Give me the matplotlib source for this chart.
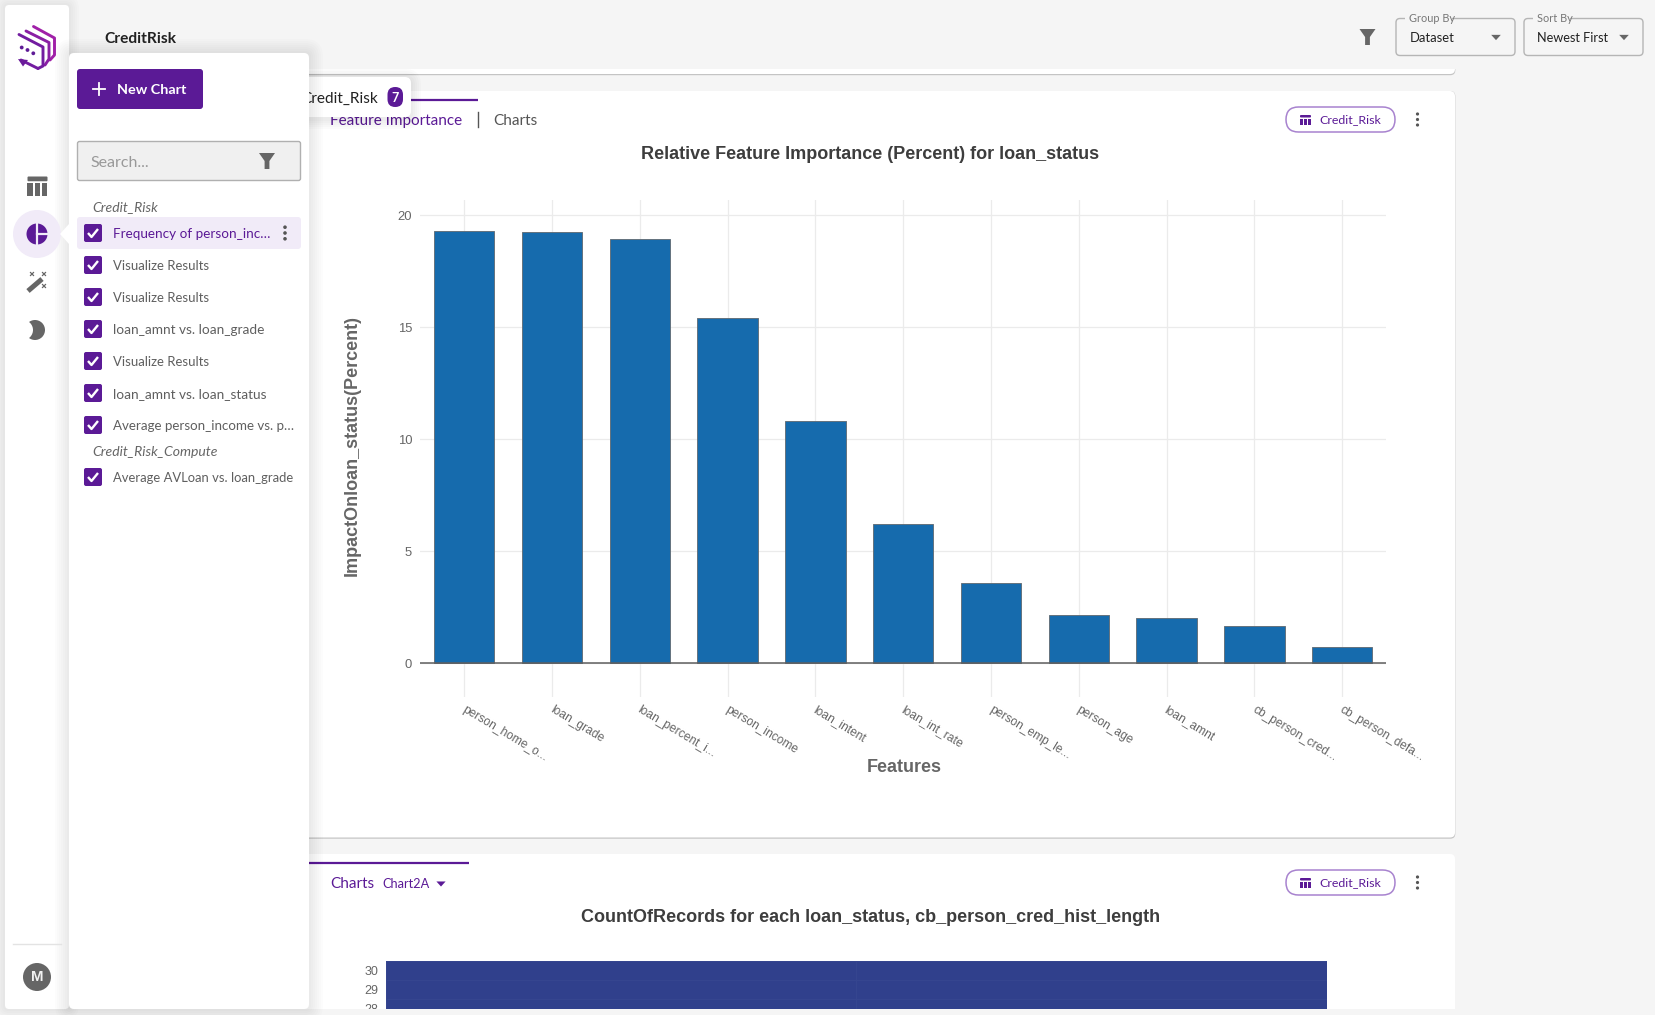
import matplotlib
matplotlib.use("Agg")
import matplotlib.pyplot as plt
from matplotlib.patches import FancyBboxPatch, Rectangle, Circle, Polygon
from matplotlib.colors import ListedColormap
from matplotlib.transforms import ScaledTranslation
import numpy as np

# ---------- data ----------
features = ["person_home_o...", "loan_grade", "loan_percent_i...", "person_income",
            "loan_intent", "loan_int_rate", "person_emp_le...", "person_age",
            "loan_amnt", "cb_person_cred...", "cb_person_defa..."]
importance = [19.29, 19.26, 18.92, 15.41, 10.8, 6.2, 3.58, 2.17, 2.01, 1.65, 0.74]
yticks = [0, 5, 10, 15, 20]

heat_rows = [28, 29, 30]
heat_cols = [0, 1]
heat_counts = [[1, 1], [1, 1], [1, 1]]

sidebar_items = ["Frequency of person_inc…", "Visualize Results", "Visualize Results",
                 "loan_amnt vs. loan_grade", "Visualize Results", "loan_amnt vs. loan_status",
                 "Average person_income vs. p…"]
sidebar_sizes = [13.55, 13.15, 13.15, 13.65, 13.15, 13.65, 13.45]
compute_items = ["Average AVLoan vs. loan_grade"]

# ---------- palette ----------
PURPLE = "#5b1a96"
LILAC = "#f1ebf8"
PAGE = "#f5f5f5"
GREY = "#666666"
UI = "Lato"
CHART = "Liberation Sans"
W, H = 1656, 1015


def fs(px):
    return px * 0.72


fig = plt.figure(figsize=(W / 100, H / 100), dpi=100, facecolor=PAGE)


def px_axes(left, top, right, bottom, **kw):
    return fig.add_axes([left / W, 1 - bottom / H, (right - left) / W, (bottom - top) / H], **kw)


def layer(z):
    a = fig.add_axes([0, 0, 1, 1], zorder=z)
    a.set_xlim(0, W)
    a.set_ylim(H, 0)
    a.axis("off")
    a.patch.set_alpha(0)
    return a


def box(a, x0, y0, x1, y1, r=4, fc="white", ec="none", lw=1, z=2, **kw):
    p = FancyBboxPatch((x0, y0), x1 - x0, y1 - y0, boxstyle=f"round,pad=0,rounding_size={r}",
                       fc=fc, ec=ec, lw=lw, zorder=z, **kw)
    a.add_patch(p)
    return p


def shadow(a, x0, y0, x1, y1, r=4, spread=14, alpha=0.012, dy=0, z=1):
    for s in range(spread, 0, -2):
        box(a, x0 - s, y0 - s + dy, x1 + s, y1 + s + dy, r=r + s, fc="black", alpha=alpha, z=z)


def card(a, x0, y0, x1, y1):
    box(a, x0, y0, x1 + 0.3, y1 + 1.2, r=5, fc="#c4c4c4", z=1.5)
    box(a, x0, y0, x1, y1, r=5, z=2)


def funnel(a, cx, cy, s=1.0, c=GREY, z=5):
    a.add_patch(Polygon([(cx - 8 * s, cy - 8 * s), (cx + 8 * s, cy - 8 * s), (cx + 2.4 * s, cy),
                         (cx + 2.4 * s, cy + 8 * s), (cx - 2.4 * s, cy + 8 * s), (cx - 2.4 * s, cy)],
                        closed=True, fc=c, ec="none", zorder=z))


def table_icon(a, cx, cy, w, h, c, z=5):
    box(a, cx - w / 2, cy - h / 2, cx + w / 2, cy - h / 2 + h * 0.25, r=1, fc=c, z=z)
    cw = w * 0.29
    for k in range(3):
        x = cx - w / 2 + k * (w - cw) / 2
        a.add_patch(Rectangle((x, cy - h / 2 + h * 0.36), cw, h * 0.64, fc=c, ec="none", zorder=z))


def dots(a, cx, cy, c="#555555", gap=6, r=1.9, z=5):
    for d in (-gap, 0, gap):
        a.add_patch(Circle((cx, cy + d), r, fc=c, ec="none", zorder=z))


def tri(a, cx, cy, s, c, z=5):
    a.add_patch(Polygon([(cx - s, cy - s * 0.55), (cx + s, cy - s * 0.55), (cx, cy + s * 0.55)],
                        closed=True, fc=c, ec="none", zorder=z))


def chip(a, y0, y1):
    box(a, 1286, y0, 1395, y1, r=12.5, fc="white", ec="#a883cf", lw=1.1, z=3)
    cy = (y0 + y1) / 2
    table_icon(a, 1305.5, cy + 0.5, 11, 10, PURPLE)
    a.text(1319.5, cy, "Credit_Risk", family=UI, fontsize=fs(12.4), color=PURPLE, va="center", zorder=5)
    dots(a, 1417.5, cy, gap=5.5, r=1.6)


# ---------- background layer: page and cards ----------
bg = layer(0)
card(bg, 290, 30, 1455, 74)
bg.add_patch(Rectangle((100, 0), 1400, 69, fc=PAGE, ec="none", zorder=3))
card(bg, 300, 91, 1455, 837.5)
box(bg, 300, 854, 1455, 1030, r=5)

# header
bg.text(104.5, 38.5, "CreditRisk", family=UI, fontsize=fs(15.5), weight="bold", color="#222222", va="center", zorder=5)
funnel(bg, 1367.5, 37, 1.0)
for x0, x1, label, val, lx, vs in [(1396, 1515, "Group By", "Dataset", 1409.5, 13.0),
                                   (1524, 1643, "Sort By", "Newest First", 1537.5, 12.7)]:
    box(bg, x0, 18.5, x1, 55.5, r=4, fc=PAGE, ec="#b5b5b5", lw=1, z=3)
    lw_px = 47 if label == "Group By" else 37
    bg.add_patch(Rectangle((lx - 4, 15), lw_px, 6, fc=PAGE, ec="none", zorder=4))
    bg.text(lx, 18, label, family=UI, fontsize=fs(11), color="#777777", va="center", zorder=5)
    bg.text(lx, 37.5, val, family=UI, fontsize=fs(vs), color="#222222", va="center", zorder=5)
    tri(bg, x1 - 19, 37.5, 4.8, "#666666")

# card 2 header
bg.text(330, 120.5, "Feature Importance", family=UI, fontsize=fs(15.2), color=PURPLE, va="center", zorder=5)
bg.plot([478, 478], [112, 127], color="#555555", lw=1, zorder=5)
bg.text(493, 120.5, "Charts", family=UI, fontsize=fs(15.4), color="#555555", va="center", zorder=5)
bg.plot([411, 478], [100, 100], color=PURPLE, lw=1.6, zorder=5, solid_capstyle="butt")
chip(bg, 107, 132)
bg.text(870.5, 154, "Relative Feature Importance (Percent) for loan_status", family=CHART, weight="bold",
        fontsize=fs(18), color="#3d3d3d", ha="center", va="center", zorder=5)
bg.text(352, 446, "ImpactOnloan_status(Percent)", family=CHART, weight="bold", rotation=90,
        fontsize=fs(18), color=GREY, ha="center", va="center", zorder=5)
bg.text(904, 768, "Features", family=CHART, weight="bold", fontsize=fs(18), color=GREY,
        ha="center", va="center", zorder=5)

# card 3 header
bg.plot([309, 469], [863, 863], color=PURPLE, lw=1.6, zorder=5, solid_capstyle="butt")
bg.text(330, 884, "Charts", family=UI, fontsize=fs(15.2), color=PURPLE, va="center", zorder=5)
bg.text(382, 884.5, "Chart2A", family=UI, fontsize=fs(12.7), color=PURPLE, va="center", zorder=5)
tri(bg, 441, 884, 4.6, PURPLE)
chip(bg, 870, 895)
bg.text(870.5, 917.5, "CountOfRecords for each loan_status, cb_person_cred_hist_length", family=CHART,
        weight="bold", fontsize=fs(18), color="#3d3d3d", ha="center", va="center", zorder=5)

# ---------- bar chart ----------
ax = px_axes(420.4, 200, 1386, 697, zorder=1)
ax.patch.set_alpha(0)
x = np.arange(len(features))
ax.bar(x, importance, width=0.688, color="#166bad", edgecolor="#64727e", linewidth=0.7, zorder=3)
ax.axhline(0, color="#5f5f5f", lw=1.1, zorder=4)
ax.set_xlim(-0.5, len(features) - 0.5)
ax.set_ylim(-33.7 / 22.4, 463.3 / 22.4)
ax.set_yticks(yticks)
ax.set_xticks(x)
ax.set_xticklabels(features, rotation=-31, ha="left", va="top", rotation_mode="anchor",
                   family=CHART, fontsize=fs(12), color=GREY)
ax.tick_params(axis="x", length=0, pad=5)
ax.tick_params(axis="y", length=0, pad=6, labelsize=fs(13), labelcolor=GREY)
nudge = ScaledTranslation(2 / 100, 0.5 / 100, fig.dpi_scale_trans)
for t in ax.get_xticklabels():
    t.set_transform(t.get_transform() + nudge)
for t in ax.get_yticklabels():
    t.set_family(CHART)
ax.grid(True, color="#ebebeb", lw=0.9, zorder=0)
ax.set_axisbelow(True)
for s in ax.spines.values():
    s.set_visible(False)

# ---------- heatmap (cut off by the page edge) ----------
hx = px_axes(386, 961, 1327, 1009, zorder=1)
rows = np.array(heat_rows)
hx.pcolormesh(np.array(heat_cols + [2]), np.append(rows - 0.5, rows[-1] + 0.5), np.array(heat_counts),
              cmap=ListedColormap(["#30408c"]), edgecolors="#35458f", linewidth=0.5)
hx.set_ylim(28.01, 30.5)
hx.set_xticks([])
hx.set_yticks(heat_rows)
hx.tick_params(axis="y", length=0, pad=5.5, labelsize=fs(12.5), labelcolor=GREY)
for t in hx.get_yticklabels():
    t.set_family(CHART)
    t.set_clip_on(False)
for s in hx.spines.values():
    s.set_visible(False)

# ---------- overlay layer: tab popup, sidebar, drawer ----------
ov = layer(2)
ov.add_patch(Rectangle((0, 1009), W, 6, fc=PAGE, ec="none", zorder=0.5))

# tab popup
shadow(ov, 300, 77, 411, 117, r=6, spread=10, alpha=0.014, dy=2, z=0.6)
box(ov, 300, 77, 411, 117, r=6, z=0.7)
ov.text(301, 98.5, "Credit_Risk", family=UI, fontsize=fs(15.4), color="#222222", va="center", zorder=0.8)
box(ov, 387.5, 87, 403, 107, r=7.7, fc=PURPLE, z=0.9)
ov.text(395.2, 97.5, "7", family=UI, fontsize=fs(12.5), weight="bold", color="white", ha="center", va="center", zorder=1)

# left rail
shadow(ov, 5, 5, 69, 1009, r=4, spread=10, alpha=0.012, z=1)
box(ov, 5, 5, 69, 1009, r=4, z=1.5)

# drawer
shadow(ov, 69, 53, 309, 1009, r=4, spread=14, alpha=0.012, z=1.6)
box(ov, 69, 53, 309, 1009, r=5, z=2)

# logo
logo_strokes = [([33.5, 54.5, 54.5, 50], [26.5, 38, 55, 60], "#a020a8"),
                ([26, 49, 49, 45], [31, 42.5, 59, 65], "#8a1fa4"),
                ([19, 43, 43, 38], [34.5, 47, 66, 68.5], "#721ca0"),
                ([21, 38], [60, 68.5], "#721ca0")]
for lx, ly, col in logo_strokes:
    ov.plot(lx, ly, color=col, lw=2.1, zorder=5, solid_joinstyle="round", solid_capstyle="round")
for (cx, cy) in [(21.7, 47.5), (27.5, 50), (33.3, 53.3)]:
    ov.add_patch(Circle((cx, cy), 1.9, fc="#5e1a96", ec="none", zorder=5))
ov.add_patch(Polygon([(18, 59), (28, 60), (23, 66.5)], closed=True, fc="#6a1b9a", ec="none", zorder=5))

# rail icons
table_icon(ov, 37.5, 186, 20, 19, GREY)
ov.add_patch(Circle((37, 234), 24, fc=LILAC, ec="none", zorder=3))
ov.add_patch(Polygon([(60, 234), (69, 224), (69, 244)], closed=True, fc="white", ec="none", zorder=3.5))
ov.add_patch(Circle((37, 234), 10.5, fc=PURPLE, ec="none", zorder=4))
ov.plot([37.5, 37.5], [222, 246], color=LILAC, lw=1.6, zorder=4.5)
ov.plot([37.5, 49], [234, 234], color=LILAC, lw=1.6, zorder=4.5)
ov.plot([28, 42], [291, 279], color=GREY, lw=3.6, zorder=5, solid_capstyle="butt")
for (cx, cy) in [(32, 274), (44, 274), (44, 286)]:
    ov.plot([cx - 1.5, cx + 1.5], [cy - 1.5, cy + 1.5], color=GREY, lw=0.9, zorder=5)
    ov.plot([cx - 1.5, cx + 1.5], [cy + 1.5, cy - 1.5], color=GREY, lw=0.9, zorder=5)
ov.add_patch(Circle((35, 330), 10, fc=GREY, ec="none", zorder=4))
ov.add_patch(Circle((23, 330), 10, fc="white", ec="none", zorder=4.5))
ov.plot([13, 61], [944, 944], color="#e3e3e3", lw=1, zorder=4)
ov.add_patch(Circle((37, 977), 14, fc=GREY, ec="none", zorder=4))
ov.text(37, 977, "M", family=CHART, fontsize=fs(15), weight="bold", color="#f2f2f2", ha="center", va="center", zorder=5)

# new chart button
box(ov, 77, 69, 203, 109, r=3, fc=PURPLE, z=3)
ov.plot([93, 105], [89, 89], color="white", lw=1.3, zorder=5)
ov.plot([99, 99], [83, 95], color="white", lw=1.3, zorder=5)
ov.text(117, 90, "New Chart", family=UI, fontsize=fs(14.4), weight="bold", color="white", va="center", zorder=5)

# search
box(ov, 77.5, 141.5, 300.5, 180.5, r=2, fc="#f0f0f0", ec="#b0b0b0", lw=1, z=3)
ov.text(90.5, 163, "Search...", family=UI, fontsize=fs(16), color="#999999", va="center", zorder=5)
funnel(ov, 267, 161, 1.0)

# list


def check(cy):
    box(ov, 84, cy - 9, 102, cy + 9, r=2, fc=PURPLE, z=4)
    ov.plot([88, 91.5, 98], [cy, cy + 4, cy - 4], color="white", lw=1.7, zorder=5, solid_capstyle="butt")


ov.text(92.5, 207.5, "Credit_Risk", family=UI, style="italic", fontsize=fs(14), color="#666666", va="center", zorder=5)
box(ov, 77, 217, 301, 249, r=3, fc=LILAC, z=3)
for i, (name, size) in enumerate(zip(sidebar_items, sidebar_sizes)):
    cy = 233 + 32 * i
    check(cy)
    ov.text(113, cy + 1 if i else cy + 0.5, name, family=UI, fontsize=fs(size), color=PURPLE if i == 0 else "#5f5f5f",
            va="center", zorder=5)
dots(ov, 285, 233, gap=5.8, r=1.8, c="#555555")
ov.text(92.5, 451.5, "Credit_Risk_Compute", family=UI, style="italic", fontsize=fs(14), color="#666666", va="center", zorder=5)
for i, name in enumerate(compute_items):
    cy = 477 + 32 * i
    check(cy)
    ov.text(113, cy + 1, name, family=UI, fontsize=fs(13.0), color="#5f5f5f", va="center", zorder=5)

fig.savefig("out.png", dpi=100, facecolor=PAGE)
